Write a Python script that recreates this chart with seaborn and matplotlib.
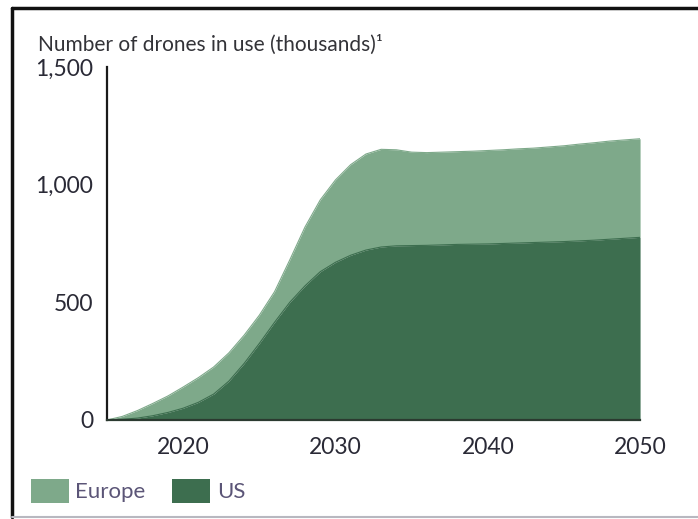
import matplotlib
matplotlib.use('Agg')
import matplotlib.pyplot as plt
import numpy as np
import pandas as pd
import seaborn as sns
from matplotlib.patches import Patch
from matplotlib.lines import Line2D
from matplotlib.ticker import FuncFormatter

years = list(range(2015, 2051))

# thousands of drones
us = [0, 3, 8, 18, 32, 50, 75, 110, 165, 240, 325, 415, 500, 570, 630, 670, 700, 722,
      735, 740, 741, 742, 744, 746, 747, 748, 750, 752, 754, 756, 758, 761, 764, 768, 772, 776]
total = [0, 15, 40, 70, 102, 140, 180, 225, 285, 360, 445, 545, 680, 820, 935, 1020, 1085, 1130,
         1150, 1148, 1138, 1136, 1138, 1140, 1142, 1145, 1148, 1152, 1155, 1160, 1165, 1172,
         1178, 1185, 1190, 1195]
europe = [t - u for t, u in zip(total, us)]

regions = ['Europe', 'US']
light = '#7ea98a'
dark = '#3d6e4f'

df = pd.DataFrame({'year': years, 'US': us, 'Europe': europe})
df['top'] = df['US'] + df['Europe']

sns.set_theme(style='white')
plt.rcParams['font.family'] = ['Lato', 'DejaVu Sans']

fig = plt.figure(figsize=(6.98, 5.19), dpi=100)
ax = fig.add_axes([0.1533, 0.1908, 0.917 - 0.1533, 0.871 - 0.1908])

ax.fill_between(df['year'], df['US'], df['top'], color=light, linewidth=0)
ax.fill_between(df['year'], 0, df['US'], color=dark, linewidth=0)
sns.lineplot(data=df, x='year', y='top', color=light, linewidth=0.8, ax=ax)
sns.lineplot(data=df, x='year', y='US', color=dark, linewidth=0.8, ax=ax)

ax.set_xlim(2015, 2050)
ax.set_ylim(0, 1500)
ax.set_xticks([2020, 2030, 2040, 2050])
ax.set_yticks([0, 500, 1000, 1500])
ax.yaxis.set_major_formatter(FuncFormatter(lambda v, p: f'{int(v):,}'))
ax.tick_params(axis='both', length=0, labelsize=16.5, colors='#2a2a36', pad=10)
ax.tick_params(axis='x', pad=12)
ax.set_xlabel('')
ax.set_ylabel('')
for s in ['top', 'right']:
    ax.spines[s].set_visible(False)
ax.spines['left'].set_color('#1a1a1a')
ax.spines['left'].set_linewidth(1.6)
ax.spines['bottom'].set_color('#2b3a30')
ax.spines['bottom'].set_linewidth(1.6)

fig.text(38 / 698, 1 - 45 / 519, 'Number of drones in use (thousands)\u00b9',
         fontsize=15, color='#333338', va='center', ha='left')

handles = [Patch(facecolor=light, edgecolor='none', label='Europe'),
           Patch(facecolor=dark, edgecolor='none', label='US')]
leg = fig.legend(handles=handles, loc='center left', bbox_to_anchor=(31 / 698, 1 - 491 / 519),
                 ncol=2, frameon=False, fontsize=16, handlelength=1.7, handleheight=1.3,
                 handletextpad=0.3, columnspacing=1.2, borderpad=0, borderaxespad=0)
for t in leg.get_texts():
    t.set_color('#5b5577')

# outer frame: dark top and left, faint bottom
fx = 12 / 698
fy_top = 1 - 8 / 519
fy_bot = 1 - 517 / 519
fig.add_artist(Line2D([fx, fx], [fy_bot, fy_top], transform=fig.transFigure, color='#111111', linewidth=2.5))
fig.add_artist(Line2D([fx, 1], [fy_top, fy_top], transform=fig.transFigure, color='#111111', linewidth=2.5))
fig.add_artist(Line2D([fx, 1], [fy_bot, fy_bot], transform=fig.transFigure, color='#b8b8c0', linewidth=1.5))

fig.savefig('out.png', dpi=100)
